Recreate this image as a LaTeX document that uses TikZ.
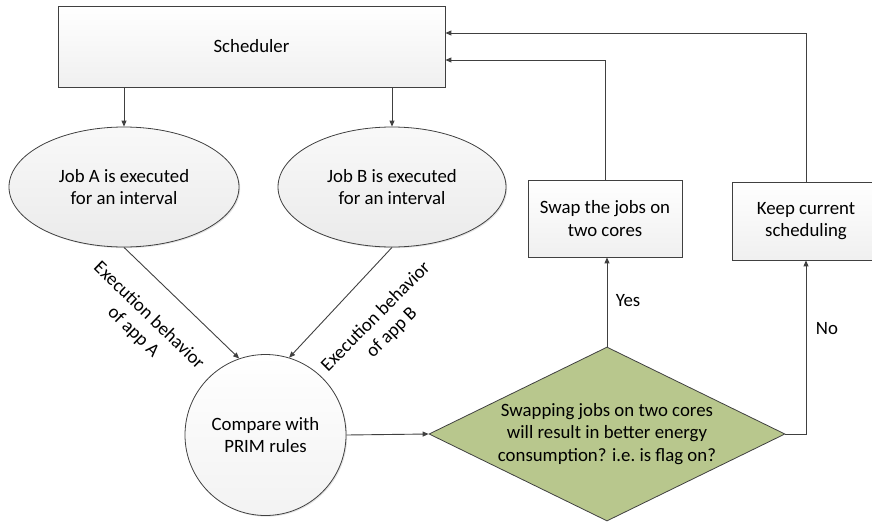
\documentclass[tikz,border=0pt]{standalone}
\usepackage{fontspec}
\setmainfont{Carlito}
\usetikzlibrary{arrows.meta,shapes.geometric,shadows,calc}
\definecolor{linegray}{HTML}{404040}
\definecolor{decgreen}{RGB}{184,199,141}
\begin{document}
\begin{tikzpicture}[x=1pt,y=-1pt,
  font=\fontsize{18.8}{22.5}\selectfont,
  softshadow/.style={drop shadow={shadow xshift=1.2pt,shadow yshift=-1.2pt,opacity=0.22}},
  box/.style={rectangle,draw=linegray,line width=0.8pt,top color=white,bottom color=gray!12,
    softshadow,align=center,inner sep=0pt},
  oval/.style={ellipse,draw=linegray,line width=0.8pt,top color=gray!5,bottom color=gray!16,
    softshadow,align=center,inner sep=0pt},
  round/.style={circle,draw=linegray,line width=0.8pt,top color=white,bottom color=gray!10,
    softshadow,align=center,inner sep=0pt},
  decision/.style={diamond,aspect=2.046,draw=linegray,line width=0.8pt,fill=decgreen,
    align=center,inner sep=0pt,minimum width=356pt,minimum height=174pt},
  arr/.style={draw=linegray,line width=0.9pt,-{Triangle[length=6pt,width=5pt]}},
  lbl/.style={align=center,inner sep=0pt}]
\clip (0,0) rectangle (872,522);

% process nodes
\node[box,minimum width=387pt,minimum height=81pt] (sched) at (251.5,46.5) {Scheduler};
\node[oval,minimum width=230pt,minimum height=120pt] (jobA) at (124,187) {Job A is executed\\for an interval};
\node[oval,minimum width=228pt,minimum height=120pt] (jobB) at (392,187) {Job B is executed\\for an interval};
\node[round,minimum size=161pt] (cmp) at (265.5,435) {Compare with\\PRIM rules};
\node[decision] (dec) at (607,434) {Swapping jobs on two cores\\will result in better energy\\consumption? i.e.\ is flag on?};
\node[box,minimum width=154pt,minimum height=77pt] (swap) at (605,218.5) {Swap the jobs on\\two cores};
\node[box,minimum width=148pt,minimum height=78pt] (keep) at (806,221) {Keep current\\scheduling};

% connectors
\draw[arr] (sched.south -| jobA.north) -- (jobA.north);
\draw[arr] (sched.south -| jobB.north) -- (jobB.north);
\draw[arr] (jobA.south) -- (cmp.109);
\draw[arr] (jobB.south) -- (cmp.73);
\draw[arr] (cmp.east) -- (dec.west);
\draw[arr] (dec.north) -- (dec.north |- swap.south);
\draw[arr] (swap.north) |- ([yshift=-13.5pt]sched.east);
\draw[arr] (keep.north) |- ([yshift=13.5pt]sched.east);
\draw[arr] (dec.east) -| (keep.south);

% labels
\node[lbl] (yes) at (628,301) {Yes};
\node[lbl] (no) at (827,329) {No};
\node[lbl,rotate=-44] (behA) at (141,324) {Execution behavior\\of app A};
\node[lbl,rotate=45] (behB) at (384,325) {Execution behavior\\of app B};
\end{tikzpicture}
\end{document}
